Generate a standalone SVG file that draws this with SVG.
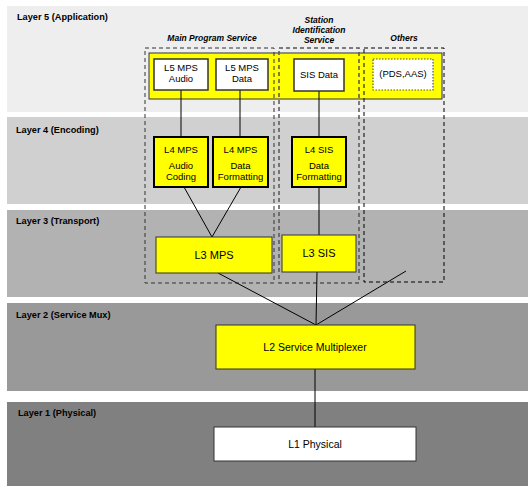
<svg xmlns="http://www.w3.org/2000/svg" width="528" height="486" viewBox="0 0 528 486">
<style>
.lay{font-family:"Liberation Sans",Arial,sans-serif;font-size:9.2px;font-weight:bold;fill:#000}
.grp{font-family:"Liberation Sans",Arial,sans-serif;font-size:8.5px;font-weight:bold;font-style:italic;fill:#000;text-anchor:middle}
.t{font-family:"Liberation Sans",Arial,sans-serif;font-size:9.5px;fill:#000;text-anchor:middle}
.t3{font-size:11px}
.t2{font-size:10.5px}
.wbox{fill:#fff;stroke:#333;stroke-width:1.5}
.ybox{fill:#ffff00;stroke:#000;stroke-width:2}
.ybox2{fill:#ffff00;stroke:#333;stroke-width:1}
.ln{stroke:#000;stroke-width:1;fill:none}
</style>
<rect width="528" height="486" fill="#fff"/>
<g id="bands">
<rect x="7" y="6" width="521" height="106" fill="#eeeeee"/>
<rect x="7" y="117" width="521" height="87" fill="#d0d0d0"/>
<rect x="7" y="210" width="521" height="87" fill="#b2b2b2"/>
<rect x="7" y="303" width="521" height="88" fill="#999999"/>
<rect x="7" y="402" width="521" height="84" fill="#808080"/>
<text class="lay" x="17" y="20">Layer 5 (Application)</text>
<text class="lay" x="16" y="133">Layer 4 (Encoding)</text>
<text class="lay" x="16" y="224">Layer 3 (Transport)</text>
<text class="lay" x="16" y="318">Layer 2 (Service Mux)</text>
<text class="lay" x="18" y="416">Layer 1 (Physical)</text>
</g>
<g id="l5band">
<rect x="149" y="53" width="293" height="46" fill="#ffff00" stroke="#333" stroke-width="1"/>
</g>
<g id="groups">
<rect x="145" y="48" width="129" height="235" fill="none" stroke="#333" stroke-width="1" stroke-dasharray="4,3"/>
<rect x="279" y="48" width="80" height="235" fill="none" stroke="#555" stroke-width="1.5" stroke-dasharray="4,3"/>
<rect x="364" y="48" width="80" height="234" fill="none" stroke="#000" stroke-width="1" stroke-dasharray="4,3"/>
<text class="grp" x="212" y="41">Main Program Service</text>
<text class="grp" x="319" y="23">Station</text>
<text class="grp" x="319" y="33">Identification</text>
<text class="grp" x="319" y="43">Service</text>
<text class="grp" x="404" y="41">Others</text>
</g>
<g id="connectors">
<line class="ln" x1="181" y1="90" x2="181" y2="137"/>
<line class="ln" x1="240" y1="90" x2="240" y2="137"/>
<line class="ln" x1="319" y1="91" x2="319" y2="137"/>
<line class="ln" x1="184" y1="187" x2="212" y2="237"/>
<line class="ln" x1="241" y1="187" x2="212" y2="237"/>
<line class="ln" x1="319" y1="187" x2="319" y2="235"/>
<line class="ln" x1="218" y1="273" x2="316" y2="325"/>
<line class="ln" x1="317" y1="272" x2="316" y2="325"/>
<line class="ln" x1="406" y1="271" x2="316" y2="325"/>
<line class="ln" x1="315" y1="369" x2="315" y2="427"/>
</g>
<g id="l5-mps-audio">
<rect class="wbox" x="154" y="59" width="54" height="31"/>
<text class="t" x="181" y="71">L5 MPS</text>
<text class="t" x="181" y="82">Audio</text>
</g>
<g id="l5-mps-data">
<rect class="wbox" x="216" y="59" width="52" height="31"/>
<text class="t" x="242" y="71">L5 MPS</text>
<text class="t" x="242" y="82">Data</text>
</g>
<g id="sis-data">
<rect class="wbox" x="294" y="59" width="50" height="32"/>
<text class="t" x="319" y="78">SIS Data</text>
</g>
<g id="pds-aas">
<rect x="373" y="59" width="60" height="31" fill="#fff" stroke="#555" stroke-width="1.2" stroke-dasharray="1.5,1.5"/>
<text class="t" x="403" y="77">(PDS,AAS)</text>
</g>
<g id="l4-mps-audio">
<rect class="ybox" x="154" y="137" width="54" height="50"/>
<text class="t" x="181" y="153">L4 MPS</text>
<text class="t" x="181" y="169">Audio</text>
<text class="t" x="181" y="180">Coding</text>
</g>
<g id="l4-mps-data">
<rect class="ybox" x="213" y="137" width="55" height="50"/>
<text class="t" x="240.5" y="153">L4 MPS</text>
<text class="t" x="240.5" y="169">Data</text>
<text class="t" x="240.5" y="180">Formatting</text>
</g>
<g id="l4-sis">
<rect class="ybox" x="292" y="137" width="54" height="50"/>
<text class="t" x="319" y="153">L4 SIS</text>
<text class="t" x="319" y="169">Data</text>
<text class="t" x="319" y="180">Formatting</text>
</g>
<g id="l3-mps">
<rect class="ybox2" x="156" y="237" width="116" height="36"/>
<text class="t t3" x="214" y="259">L3 MPS</text>
</g>
<g id="l3-sis">
<rect class="ybox2" x="282" y="235" width="74" height="37"/>
<text class="t t3" x="319" y="257">L3 SIS</text>
</g>
<g id="l2">
<rect class="ybox2" x="216" y="325" width="199" height="44"/>
<text class="t t2" x="315" y="351">L2 Service Multiplexer</text>
</g>
<g id="l1">
<rect class="ybox2" style="fill:#fff" x="214" y="427" width="202" height="34"/>
<text class="t t2" x="315" y="448">L1 Physical</text>
</g>
</svg>
